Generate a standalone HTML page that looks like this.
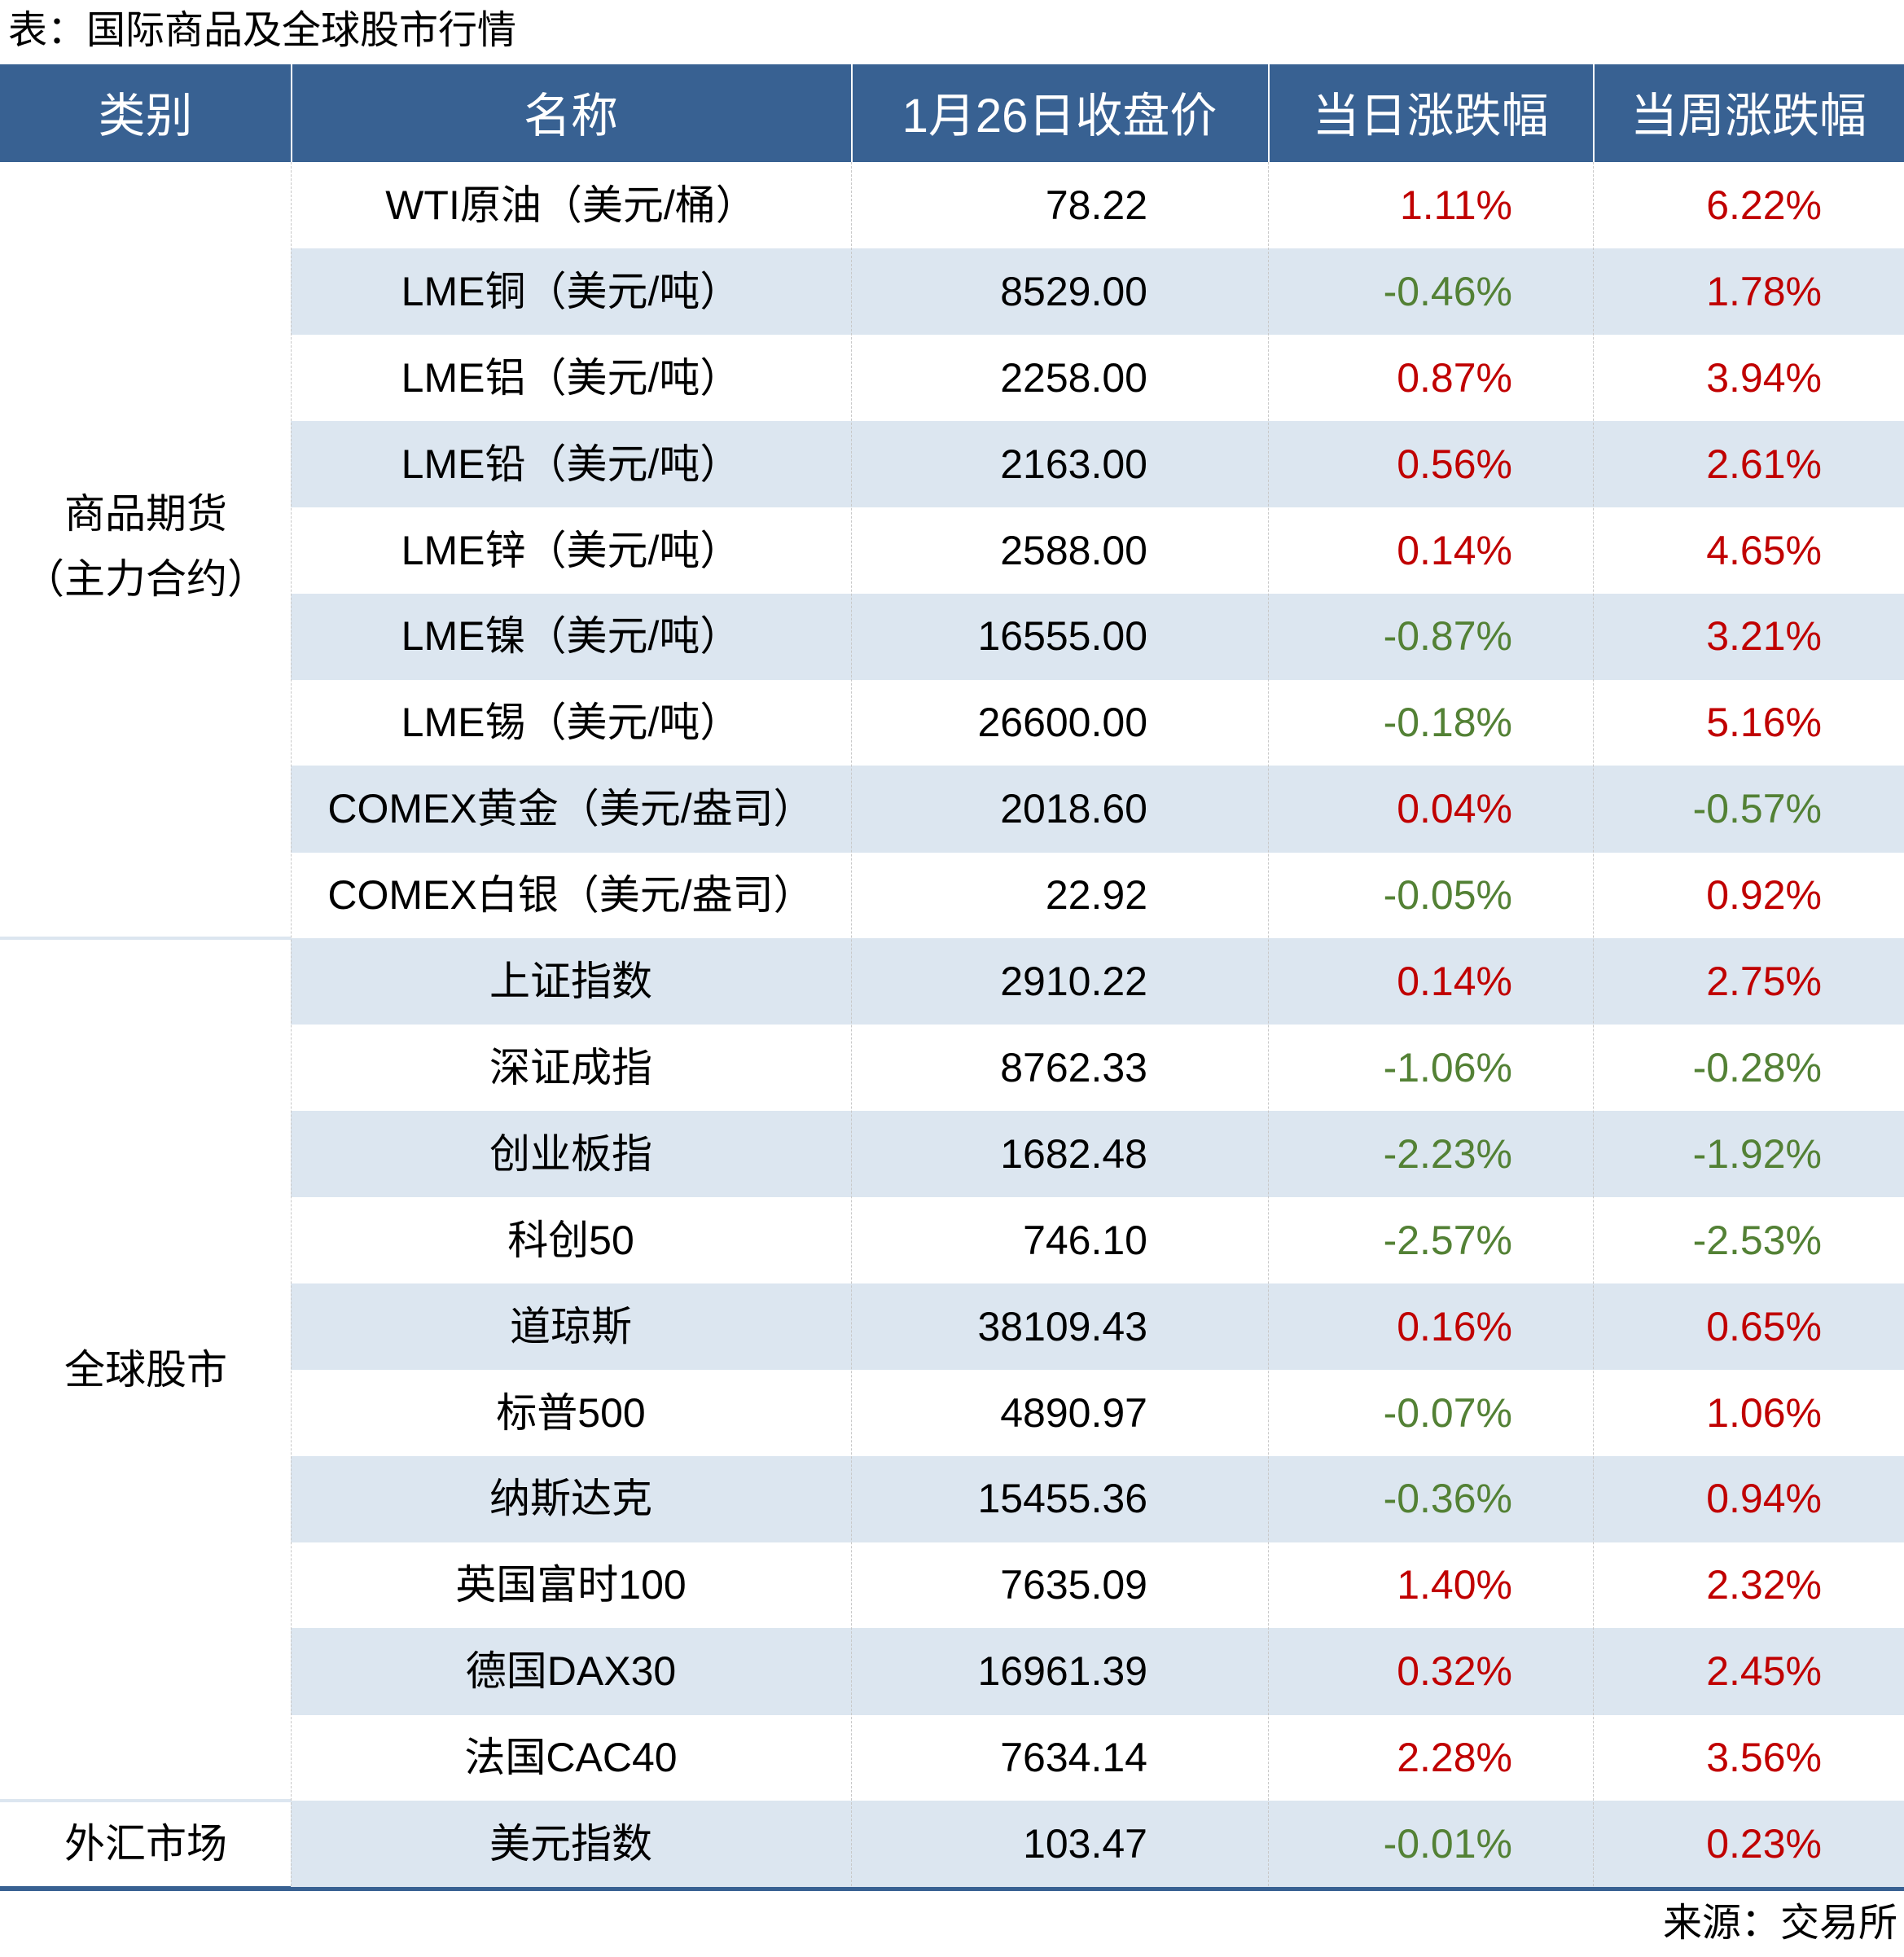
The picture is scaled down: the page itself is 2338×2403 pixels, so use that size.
<!DOCTYPE html>
<html><head><meta charset="utf-8"><style>
body{margin:0;width:2338px;height:2403px;background:#fff;position:relative;overflow:hidden;font-family:"Liberation Sans","Noto Sans CJK SC",sans-serif;}
.a{position:absolute;box-sizing:border-box;}
.t{position:absolute;white-space:nowrap;line-height:1;}
</style></head><body>
<div class="t" style="left:10px;top:14px;font-size:48px;color:#000;">表：国际商品及全球股市行情</div>
<div class="a" style="left:0;top:79px;width:2338px;height:120px;background:#386192;"></div>
<div id="root"></div>
<div class="a" style="left:0;top:2316px;width:2338px;height:6px;background:#386192;"></div>
<div class="t" style="right:8px;top:2338px;font-size:48px;color:#000;">来源：交易所</div>
<script>
const headers=["类别","名称","1月26日收盘价","当日涨跌幅","当周涨跌幅"];
const names=["WTI原油（美元/桶）","LME铜（美元/吨）","LME铝（美元/吨）","LME铅（美元/吨）","LME锌（美元/吨）","LME镍（美元/吨）","LME锡（美元/吨）","COMEX黄金（美元/盎司）","COMEX白银（美元/盎司）","上证指数","深证成指","创业板指","科创50","道琼斯","标普500","纳斯达克","英国富时100","德国DAX30","法国CAC40","美元指数"];
const prices=["78.22","8529.00","2258.00","2163.00","2588.00","16555.00","26600.00","2018.60","22.92","2910.22","8762.33","1682.48","746.10","38109.43","4890.97","15455.36","7635.09","16961.39","7634.14","103.47"];
const dayChg=[1.11,-0.46,0.87,0.56,0.14,-0.87,-0.18,0.04,-0.05,0.14,-1.06,-2.23,-2.57,0.16,-0.07,-0.36,1.40,0.32,2.28,-0.01];
const weekChg=[6.22,1.78,3.94,2.61,4.65,3.21,5.16,-0.57,0.92,2.75,-0.28,-1.92,-2.53,0.65,1.06,0.94,2.32,2.45,3.56,0.23];
const groups=[["商品期货","（主力合约）",0,9],["全球股市","",9,19],["外汇市场","",19,20]];
const root=document.getElementById('root');
const colX=[0,357,1045,1557,1956,2338];
const top0=199,rh=105.9;
function add(html,style,name){const d=document.createElement('div');d.className=html===null?'a':'t';if(html!==null)d.textContent=html;d.style.cssText=style;


document.body.appendChild(d);return d;}
headers.forEach((h,i)=>{const cx=(colX[i]+colX[i+1])/2;
add(h,`left:${cx}px;top:114px;transform:translateX(-50%);font-size:58px;color:#fff;`,'header-'+i);
if(i>0)add(null,`left:${colX[i]}px;top:79px;width:2px;height:120px;background:#fff;`,'header-divider');});
names.forEach((n,i)=>{const y=top0+i*rh;
if(i%2===1)add(null,`left:357px;top:${y}px;width:1981px;height:${rh+0.5}px;background:#dce6f0;`,'row-band');
const cy=y+rh/2-25;
add(n,`left:701px;top:${cy}px;transform:translateX(-50%);font-size:50px;color:#000;`,'name-cell');
add(prices[i],`right:${2338-1409}px;top:${cy}px;font-size:50px;color:#000;`,'price-cell');
const d=dayChg[i],w=weekChg[i];
add(d.toFixed(2)+'%',`right:${2338-1857}px;top:${cy}px;font-size:50px;color:${d<0?'#538135':'#c00000'};`,'day-change-cell');
add(w.toFixed(2)+'%',`right:${2338-2237}px;top:${cy}px;font-size:50px;color:${w<0?'#538135':'#c00000'};`,'week-change-cell');
});
[1,2,3,4].forEach(i=>add(null,`left:${colX[i]}px;top:199px;width:0;height:2117px;border-left:1px dashed #c8c8c8;`,'column-divider'));
groups.forEach((g,k)=>{const y1=top0+g[2]*rh,y2=top0+g[3]*rh,cy=(y1+y2)/2;
if(g[1]){add(g[0],`left:179px;top:${cy-70}px;transform:translateX(-50%);font-size:50px;color:#000;`,'category-label');
add(g[1],`left:179px;top:${cy+10}px;transform:translateX(-50%);font-size:50px;color:#000;`,'category-label-sub');}
else add(g[0],`left:179px;top:${cy-25}px;transform:translateX(-50%);font-size:50px;color:#000;`,'category-label');
if(k>0)add(null,`left:0;top:${y1-2}px;width:357px;height:4px;background:#dce6f0;`,'category-divider');});
</script>
</body></html>
